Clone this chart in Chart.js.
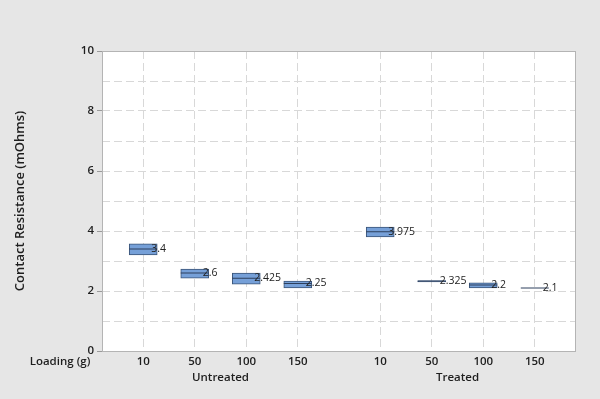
<!DOCTYPE html>
<html>
<head>
<meta charset="utf-8">
<script src="https://cdn.jsdelivr.net/npm/chart.js@4/dist/chart.umd.min.js"></script>
<style>
  html, body { margin: 0; padding: 0; background: #e6e6e6; }
  #wrap { width: 600px; height: 399px; }
</style>
</head>
<body>
<div id="wrap"><canvas id="boxes"></canvas></div>
<script>
// data
var groups = ['Untreated', 'Treated'];
var loadings = ['10', '50', '100', '150'];
var q1 = [3.2, 2.43, 2.23, 2.1, 3.8, 2.3, 2.1, 2.1];
var q3 = [3.57, 2.73, 2.6, 2.33, 4.13, 2.35, 2.27, 2.1];
var medians = [3.4, 2.6, 2.425, 2.25, 3.975, 2.325, 2.2, 2.1];
var medianText = ['3.4', '2.6', '2.425', '2.25', '3.975', '2.325', '2.2', '2.1'];
var yTicks = [0, 2, 4, 6, 8, 10];

var FONT = '"Open Sans", "Noto Sans", sans-serif';
var groupGap = 0.6;

// x position of each box: groups side by side with a gap between them
var pos = [];
var tickNames = [];
for (var g = 0; g < groups.length; g++) {
    for (var l = 0; l < loadings.length; l++) {
        pos.push(g * (loadings.length + groupGap) + l + 1);
        tickNames.push(loadings[l]);
    }
}

var boxData = [];
var medData = [];
for (var i = 0; i < pos.length; i++) {
    boxData.push({ x: pos[i], y: [q1[i], q3[i]] });
    medData.push({ x: pos[i], y: medians[i] });
}

var bgPlugin = {
    id: 'bg',
    beforeDraw: function (chart) {
        var c = chart.ctx, a = chart.chartArea;
        c.save();
        c.fillStyle = '#e6e6e6';
        c.fillRect(0, 0, chart.width, chart.height);
        c.fillStyle = '#ffffff';
        c.fillRect(a.left, a.top, a.right - a.left, a.bottom - a.top);
        c.restore();
    },
    afterDraw: function (chart) {
        var c = chart.ctx, a = chart.chartArea;
        var xs = chart.scales.x, ys = chart.scales.y;
        c.save();
        c.strokeStyle = '#b4b4b4';
        c.lineWidth = 1;
        c.strokeRect(a.left + 0.5, a.top + 0.5, a.right - a.left - 1, a.bottom - a.top);
        // median labels
        c.font = '10.5px ' + FONT;
        c.fillStyle = '#222222';
        c.textAlign = 'left';
        c.textBaseline = 'middle';
        for (var i = 0; i < pos.length; i++) {
            c.fillText(medianText[i], xs.getPixelForValue(pos[i]) + 8, ys.getPixelForValue(medians[i]));
        }
        // axis captions
        c.font = '600 11.5px ' + FONT;
        c.fillStyle = '#1e1e1e';
        c.textAlign = 'center';
        for (var g = 0; g < groups.length; g++) {
            var first = pos[g * loadings.length];
            var last = pos[g * loadings.length + loadings.length - 1];
            c.fillText(groups[g], xs.getPixelForValue((first + last) / 2), a.bottom + 27);
        }
        c.fillText('Loading (g)', 60, a.bottom + 11);
        c.restore();
    }
};

new Chart(document.getElementById('boxes'), {
    type: 'bar',
    data: {
        datasets: [
            {
                type: 'bar',
                label: 'box',
                data: boxData,
                backgroundColor: '#76a0d8',
                borderColor: '#3b5579',
                borderWidth: 1,
                borderSkipped: false,
                barThickness: 28,
                order: 2
            },
            {
                type: 'scatter',
                label: 'median',
                data: medData,
                pointStyle: 'line',
                pointRadius: 14,
                pointHoverRadius: 14,
                borderColor: '#2d3f5c',
                borderWidth: 1,
                order: 1
            }
        ]
    },
    plugins: [bgPlugin],
    options: {
        responsive: true,
        maintainAspectRatio: false,
        animation: false,
        layout: { padding: { left: 0, right: 24, top: 51, bottom: 0 } },
        plugins: { legend: { display: false }, tooltip: { enabled: false } },
        scales: {
            x: {
                type: 'linear',
                offset: false,
                min: 0.2,
                max: pos[pos.length - 1] + 0.8,
                afterBuildTicks: function (s) {
                    s.ticks = pos.map(function (p) { return { value: p }; });
                },
                afterFit: function (s) { s.height = 48; },
                ticks: {
                    autoSkip: false,
                    maxRotation: 0,
                    padding: 4,
                    color: '#1e1e1e',
                    font: { family: FONT, size: 11.5, weight: '600' },
                    callback: function (v, idx) { return tickNames[idx]; }
                },
                grid: { offset: false, color: '#d8d8d8', drawTicks: false },
                border: { display: false, dash: [8, 4] }
            },
            y: {
                min: 0,
                max: 10,
                afterBuildTicks: function (s) {
                    var t = [];
                    for (var v = 0; v <= 10; v++) t.push({ value: v });
                    s.ticks = t;
                },
                afterFit: function (s) { s.width = 102; },
                ticks: {
                    padding: 3,
                    color: '#1e1e1e',
                    font: { family: FONT, size: 11.5, weight: '600' },
                    callback: function (v) { return yTicks.indexOf(v) >= 0 ? String(v) : ''; }
                },
                grid: {
                    color: '#d8d8d8',
                    tickLength: 5,
                    tickColor: function (ctx) {
                        return ctx.tick && yTicks.indexOf(ctx.tick.value) >= 0 ? '#9a9a9a' : 'rgba(0,0,0,0)';
                    }
                },
                border: { display: false, dash: [8, 4] },
                title: {
                    display: true,
                    text: 'Contact Resistance (mOhms)',
                    color: '#1e1e1e',
                    font: { family: FONT, size: 13, weight: '600' },
                    padding: { top: 12, bottom: 0 }
                }
            }
        }
    }
});
</script>
</body>
</html>
